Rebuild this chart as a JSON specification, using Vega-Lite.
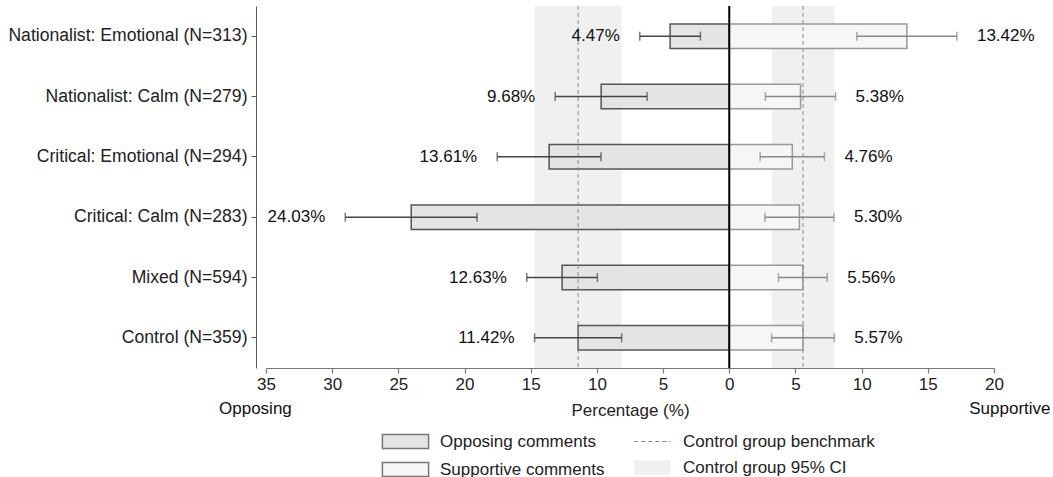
{
  "$schema": "https://vega.github.io/schema/vega-lite/v6.json",
  "width": 728,
  "height": 362,
  "padding": {"left": 7, "top": 5, "right": 0, "bottom": 0},
  "config": {
    "font": "Liberation Sans",
    "view": {"stroke": null},
    "axis": {"grid": false},
    "legend": {"labelFontSize": 17, "labelColor": "#222", "labelLimit": 400, "symbolSize": 196, "rowPadding": 7, "title": null}
  },
  "resolve": {"scale": {"fill": "independent"}},
  "datasets": {
    "bars": [
      {"group": "Nationalist: Emotional (N=313)", "type": "Opposing comments", "value": -4.47, "lo": -2.18, "hi": -6.76, "label": "4.47%"},
      {"group": "Nationalist: Emotional (N=313)", "type": "Supportive comments", "value": 13.42, "lo": 9.64, "hi": 17.2, "label": "13.42%"},
      {"group": "Nationalist: Calm (N=279)", "type": "Opposing comments", "value": -9.68, "lo": -6.21, "hi": -13.15, "label": "9.68%"},
      {"group": "Nationalist: Calm (N=279)", "type": "Supportive comments", "value": 5.38, "lo": 2.73, "hi": 8.03, "label": "5.38%"},
      {"group": "Critical: Emotional (N=294)", "type": "Opposing comments", "value": -13.61, "lo": -9.69, "hi": -17.53, "label": "13.61%"},
      {"group": "Critical: Emotional (N=294)", "type": "Supportive comments", "value": 4.76, "lo": 2.33, "hi": 7.19, "label": "4.76%"},
      {"group": "Critical: Calm (N=283)", "type": "Opposing comments", "value": -24.03, "lo": -19.05, "hi": -29.01, "label": "24.03%"},
      {"group": "Critical: Calm (N=283)", "type": "Supportive comments", "value": 5.3, "lo": 2.69, "hi": 7.91, "label": "5.30%"},
      {"group": "Mixed (N=594)", "type": "Opposing comments", "value": -12.63, "lo": -9.96, "hi": -15.3, "label": "12.63%"},
      {"group": "Mixed (N=594)", "type": "Supportive comments", "value": 5.56, "lo": 3.72, "hi": 7.4, "label": "5.56%"},
      {"group": "Control (N=359)", "type": "Opposing comments", "value": -11.42, "lo": -8.13, "hi": -14.71, "label": "11.42%"},
      {"group": "Control (N=359)", "type": "Supportive comments", "value": 5.57, "lo": 3.2, "hi": 7.94, "label": "5.57%"}
    ],
    "control": [
      {"side": "Opposing", "lo": -14.71, "hi": -8.13, "bench": -11.42},
      {"side": "Supportive", "lo": 3.2, "hi": 7.94, "bench": 5.57}
    ],
    "ends": [
      {"label": "Opposing", "x": -35.8},
      {"label": "Supportive", "x": 21.2}
    ]
  },
  "layer": [
    {
      "data": {"name": "control"},
      "mark": {"type": "rect"},
      "encoding": {
        "x": {
          "field": "lo", "type": "quantitative",
          "scale": {"domain": [-35, 20], "nice": false, "zero": false},
          "axis": {
            "values": [-35, -30, -25, -20, -15, -10, -5, 0, 5, 10, 15, 20],
            "labelExpr": "abs(datum.value) + ''",
            "title": "Percentage (%)",
            "titleFontSize": 17, "titleFontWeight": "normal", "titleColor": "#222", "titlePadding": 10,
            "labelFontSize": 17, "labelColor": "#222", "labelPadding": 3,
            "tickSize": 5, "tickColor": "#777", "domainColor": "#777", "domainWidth": 1.2, "tickWidth": 1.2,
            "labelFlush": false, "labelOverlap": false
          }
        },
        "x2": {"field": "hi"},
        "fill": {
          "datum": "Control group 95% CI", "type": "nominal",
          "scale": {"domain": ["Control group 95% CI"], "range": ["#f0f0f0"]},
          "legend": {
            "orient": "none", "legendX": 378, "legendY": 453, "labelOffset": 22,
            "symbolType": "M-2.6,-1L2.6,-1L2.6,1L-2.6,1Z", "symbolStrokeColor": "transparent", "symbolStrokeWidth": 0
          }
        }
      }
    },
    {
      "data": {"name": "bars"},
      "mark": {"type": "bar", "strokeWidth": 1.5},
      "encoding": {
        "y": {
          "field": "group", "type": "nominal", "sort": null,
          "scale": {"paddingInner": 0.595, "paddingOuter": 0.2975},
          "axis": {
            "title": null, "offset": 10, "labelFontSize": 17.6, "labelColor": "#222", "labelPadding": 4,
            "tickSize": 5, "domainColor": "#555", "tickColor": "#555", "labelLimit": 400
          }
        },
        "x": {"field": "value", "type": "quantitative", "stack": null},
        "x2": {"datum": 0},
        "fill": {
          "field": "type", "type": "nominal",
          "scale": {"domain": ["Opposing comments", "Supportive comments"], "range": ["#e4e4e4", "#f6f6f6"]},
          "legend": {
            "orient": "none", "legendX": 131, "legendY": 427, "labelOffset": 26,
            "symbolType": "M-3.3,-1L3.3,-1L3.3,1L-3.3,1Z", "symbolStrokeWidth": 1.5, "symbolStrokeColor": "#777"
          }
        },
        "stroke": {
          "field": "type", "type": "nominal",
          "scale": {"domain": ["Opposing comments", "Supportive comments"], "range": ["#555555", "#999999"]},
          "legend": null
        }
      }
    },
    {
      "data": {"name": "control"},
      "mark": {"type": "rule", "color": "#888", "strokeWidth": 1},
      "encoding": {
        "x": {"field": "bench", "type": "quantitative"},
        "strokeDash": {
          "datum": "Control group benchmark", "type": "nominal",
          "scale": {"domain": ["Control group benchmark"], "range": [[4, 3]]},
          "legend": {
            "orient": "none", "legendX": 378, "legendY": 427, "labelOffset": 22,
            "symbolType": "M-2.6,0L2.6,0", "symbolStrokeColor": "#888", "symbolStrokeWidth": 1
          }
        }
      }
    },
    {
      "data": {"values": [{"zero": 0}]},
      "mark": {"type": "rule", "color": "#000", "strokeWidth": 2},
      "encoding": {"x": {"field": "zero", "type": "quantitative"}}
    },
    {
      "data": {"name": "bars"},
      "mark": {"type": "rule", "strokeWidth": 1.5},
      "encoding": {
        "y": {"field": "group", "type": "nominal", "sort": null},
        "x": {"field": "lo", "type": "quantitative"},
        "x2": {"field": "hi"},
        "color": {
          "condition": {"test": "datum.type === 'Opposing comments'", "value": "#444"},
          "value": "#888"
        }
      }
    },
    {
      "data": {"name": "bars"},
      "mark": {"type": "tick", "size": 9, "thickness": 1.5, "orient": "vertical"},
      "encoding": {
        "y": {"field": "group", "type": "nominal", "sort": null},
        "x": {"field": "lo", "type": "quantitative"},
        "color": {
          "condition": {"test": "datum.type === 'Opposing comments'", "value": "#444"},
          "value": "#888"
        }
      }
    },
    {
      "data": {"name": "bars"},
      "mark": {"type": "tick", "size": 9, "thickness": 1.5, "orient": "vertical"},
      "encoding": {
        "y": {"field": "group", "type": "nominal", "sort": null},
        "x": {"field": "hi", "type": "quantitative"},
        "color": {
          "condition": {"test": "datum.type === 'Opposing comments'", "value": "#444"},
          "value": "#888"
        }
      }
    },
    {
      "data": {"name": "bars"},
      "transform": [{"filter": "datum.type === 'Opposing comments'"}],
      "mark": {"type": "text", "align": "right", "baseline": "middle", "dx": -20, "fontSize": 17, "color": "#111"},
      "encoding": {
        "y": {"field": "group", "type": "nominal", "sort": null},
        "x": {"field": "hi", "type": "quantitative"},
        "text": {"field": "label"}
      }
    },
    {
      "data": {"name": "bars"},
      "transform": [{"filter": "datum.type === 'Supportive comments'"}],
      "mark": {"type": "text", "align": "left", "baseline": "middle", "dx": 20, "fontSize": 17, "color": "#111"},
      "encoding": {
        "y": {"field": "group", "type": "nominal", "sort": null},
        "x": {"field": "hi", "type": "quantitative"},
        "text": {"field": "label"}
      }
    },
    {
      "data": {"name": "ends"},
      "mark": {"type": "text", "align": "center", "baseline": "middle", "dy": 71, "fontSize": 17, "color": "#111"},
      "encoding": {
        "y": {"datum": "Control (N=359)", "type": "nominal"},
        "x": {"field": "x", "type": "quantitative"},
        "text": {"field": "label"}
      }
    }
  ]
}
